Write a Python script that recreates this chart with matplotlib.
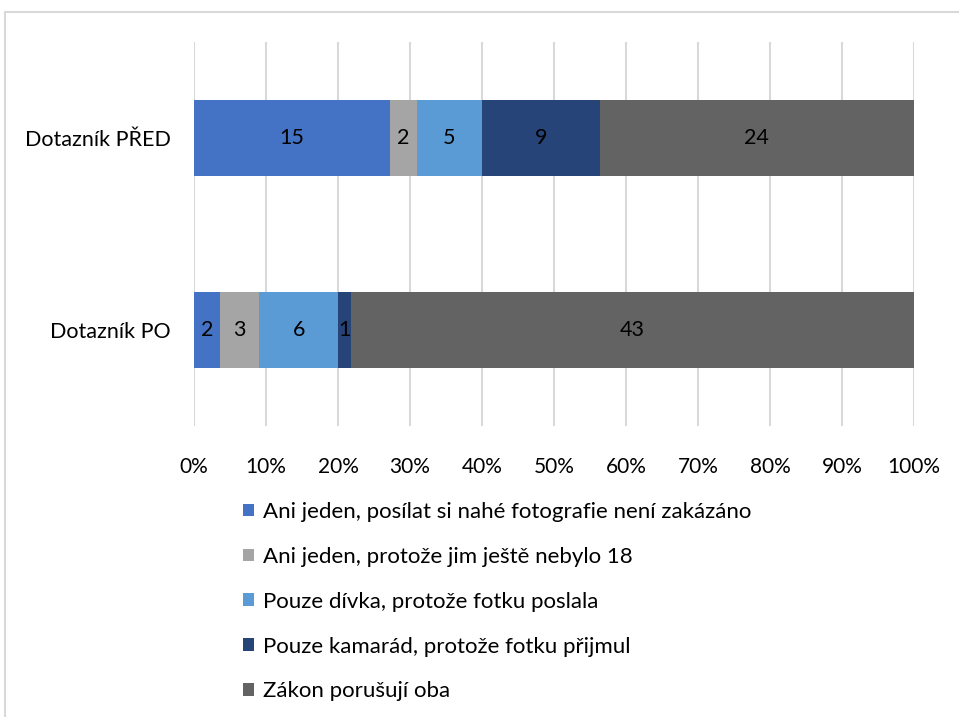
import matplotlib
matplotlib.use("Agg")
import matplotlib.pyplot as plt
from matplotlib.patches import Rectangle
import numpy as np

plt.rcParams['font.family'] = ['Lato', 'DejaVu Sans']

categories = ["Dotazník PO", "Dotazník PŘED"]
series_names = [
    "Ani jeden, posílat si nahé fotografie není zakázáno",
    "Ani jeden, protože jim ještě nebylo 18",
    "Pouze dívka, protože fotku poslala",
    "Pouze kamarád, protože fotku přijmul",
    "Zákon porušují oba",
]
values_po = [2, 3, 6, 1, 43]
values_pred = [15, 2, 5, 9, 24]
colors = ["#4472C4", "#A5A5A5", "#5B9BD5", "#264478", "#636363"]
xticklabels = ["0%", "10%", "20%", "30%", "40%", "50%", "60%", "70%", "80%", "90%", "100%"]

W, H = 959, 717
fig = plt.figure(figsize=(W / 100, H / 100), dpi=100)

# outer border
fig.patches.append(Rectangle((5 / W, -0.1), 1.2, 1 - 12 / H + 0.1, transform=fig.transFigure,
                             fill=False, edgecolor="#D9D9D9", linewidth=1.5))

ax = fig.add_axes([194 / W, 1 - 426 / H, 720 / W, 384 / H])

data = np.array([values_po, values_pred], dtype=float)
totals = data.sum(axis=1)
pct = data / totals[:, None] * 100
y = np.arange(len(categories))
left = np.zeros(len(categories))
handles = []
for i, name in enumerate(series_names):
    bars = ax.barh(y, pct[:, i], left=left, height=0.4, color=colors[i], label=name, zorder=3)
    ax.bar_label(bars, labels=[str(int(v)) for v in data[:, i]], label_type='center',
                 fontsize=15.5, color='black')
    left += pct[:, i]
    handles.append(bars)

ax.set_xlim(0, 100)
ax.set_ylim(-0.5, 1.5)
ax.set_xticks(np.arange(0, 101, 10))
ax.set_xticklabels(xticklabels, fontsize=15)
ax.set_yticks(y)
ax.set_yticklabels(categories, fontsize=15.5)
ax.tick_params(axis='both', length=0)
ax.tick_params(axis='x', pad=22)
ax.tick_params(axis='y', pad=17)
ax.grid(axis='x', color='#D9D9D9', linewidth=1.5, zorder=0)
for s in ax.spines.values():
    s.set_visible(False)

leg = fig.legend(handles=handles, labels=series_names, loc='upper left',
                 bbox_to_anchor=(234 / W, 1 - 493 / H), frameon=False, fontsize=16,
                 handlelength=0.5, handleheight=0.5, handletextpad=0.4, labelspacing=1.12,
                 borderaxespad=0)

fig.savefig("out.png", dpi=100)
